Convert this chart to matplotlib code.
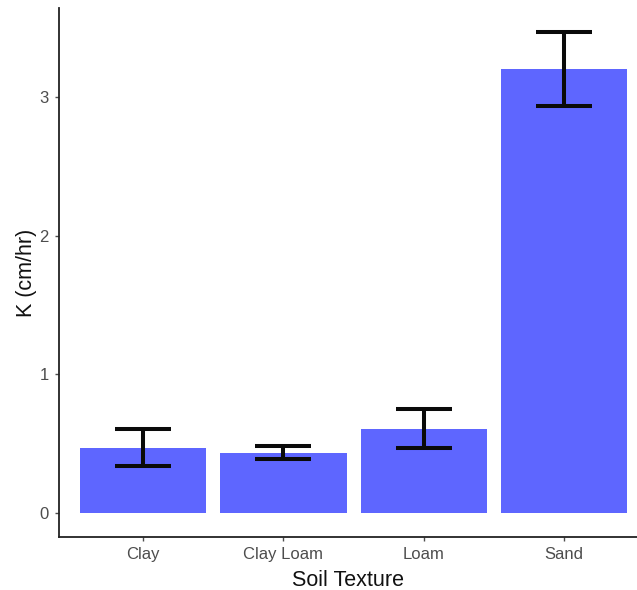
import matplotlib
matplotlib.use("Agg")
import matplotlib.pyplot as plt

# Hydraulic conductivity by soil texture (mean ± standard error)
textures = ["Clay", "Clay Loam", "Loam", "Sand"]
k_mean = [0.471, 0.435, 0.609, 3.200]
k_se = [0.135, 0.048, 0.139, 0.266]

plt.rcParams["font.family"] = ["Liberation Sans", "DejaVu Sans"]

fig = plt.figure(figsize=(6.37, 5.90), dpi=100)
ax = fig.add_axes([59 / 637, 53 / 590, 1 - 59 / 637, (537 - 8) / 590])

x = list(range(1, len(textures) + 1))
ax.bar(x, k_mean, width=0.9, color="#5E66FF", zorder=2)
ax.errorbar(x, k_mean, yerr=k_se, fmt="none", ecolor="#0a0a0a",
            elinewidth=2.9, capsize=20, capthick=2.9, zorder=3)

ax.set_xlim(0.4, 4.52)
ax.set_ylim(-0.173, 3.641)
ax.set_xticks(x)
ax.set_xticklabels(textures)
ax.set_yticks([0, 1, 2, 3])

for side in ("top", "right"):
    ax.spines[side].set_visible(False)
for side in ("left", "bottom"):
    ax.spines[side].set_linewidth(1.3)
    ax.spines[side].set_color("#222222")

ax.tick_params(axis="both", colors="#4D4D4D", labelsize=12, length=3.2,
               width=1.0, pad=4)
ax.set_xlabel("Soil Texture", fontsize=15.5, color="#111111", labelpad=6)
ax.set_ylabel("K (cm/hr)", fontsize=15.5, color="#111111", labelpad=2)

fig.savefig("out.png", dpi=100)
